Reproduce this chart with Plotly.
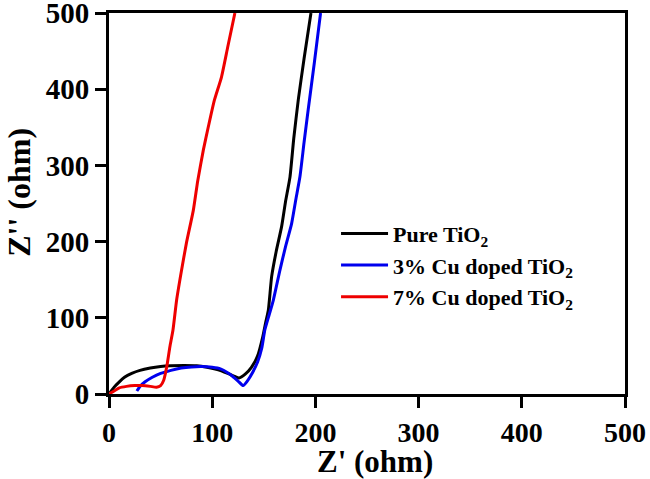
import plotly.graph_objects as go

# Pure TiO2
pure_x = [0, 5, 10, 15, 22, 30, 40, 50, 60, 73, 85, 95, 105, 115, 122, 126, 132, 138, 144, 149, 152, 154.4, 157.6, 162, 167.3, 171, 175.4, 179, 183.5, 189, 195.7]
pure_y = [0, 9, 16, 22, 27, 31, 34, 36, 37, 37.5, 37, 35, 32, 27, 23, 21, 26, 35, 50, 75, 95, 110, 154, 187, 220, 252, 285, 335, 387, 440, 500]

# 3% Cu doped TiO2
cu3_x = [27, 30, 35, 42, 50, 60, 70, 80, 90, 100, 108, 115, 120, 125, 130, 134, 139, 144, 148, 151, 155, 159.2, 165.7, 171, 177, 181, 185, 189, 193, 199, 205]
cu3_y = [4, 10, 16, 22, 27, 31, 34, 35.5, 36, 35, 33, 28, 23, 17, 11, 17, 28, 42, 60, 84, 103, 123, 163, 193, 224, 255, 285, 330, 373, 435, 500]

# 7% Cu doped TiO2
cu7_x = [0, 5, 10, 17, 25, 32, 40, 46, 50, 53, 56, 59, 62, 65.5, 70, 75, 81.7, 86, 91.4, 96.3, 102, 109, 115, 122]
cu7_y = [0, 4, 8, 10, 11, 11, 10, 9, 11, 18, 36, 62, 84, 123, 160, 198, 241, 280, 320, 351, 385, 416, 455, 500]

x_ticks = [0, 100, 200, 300, 400, 500]
y_ticks = [0, 100, 200, 300, 400, 500]

FONT = "Liberation Serif"

fig = go.Figure()
fig.add_trace(go.Scatter(x=pure_x, y=pure_y, mode="lines", name="Pure TiO<sub>2</sub>",
                         line=dict(color="black", width=3, shape="spline", smoothing=0.5)))
fig.add_trace(go.Scatter(x=cu3_x, y=cu3_y, mode="lines", name="3% Cu doped TiO<sub>2</sub>",
                         line=dict(color="#0000ee", width=3, shape="spline", smoothing=0.5)))
fig.add_trace(go.Scatter(x=cu7_x, y=cu7_y, mode="lines", name="7% Cu doped TiO<sub>2</sub>",
                         line=dict(color="#ee0000", width=3, shape="spline", smoothing=0.5)))

axis_common = dict(
    showline=True, linecolor="black", linewidth=3, mirror=True,
    ticks="outside", ticklen=11, tickwidth=3, tickcolor="black",
    showgrid=False, zeroline=False, automargin=False,
    ticklabeloverflow="allow",
)

fig.update_layout(
    width=650, height=479,
    margin=dict(l=109, r=25, t=13, b=85),
    plot_bgcolor="white", paper_bgcolor="white",
    font=dict(family=FONT, color="black"),
    xaxis=dict(range=[0, 500], tickvals=x_ticks,
               tickfont=dict(family=FONT, size=28, color="black", weight="bold"),
               **axis_common),
    yaxis=dict(range=[0, 500], tickvals=y_ticks,
               tickfont=dict(family=FONT, size=29, color="black", weight="bold"),
               **axis_common),
    legend=dict(x=0.44, y=0.476, xanchor="left", yanchor="top",
                bgcolor="rgba(0,0,0,0)", borderwidth=0, itemwidth=47,
                tracegroupgap=0,
                font=dict(family=FONT, size=22, color="black", weight="bold")),
    annotations=[
        dict(text="Z' (ohm)", xref="paper", yref="paper", x=0.5155, y=-0.176,
             xanchor="center", yanchor="middle", showarrow=False, borderpad=0,
             font=dict(family=FONT, size=31, color="black", weight="bold")),
        dict(text="Z'' (ohm)", xref="paper", yref="paper", x=-0.175, y=0.53,
             xanchor="center", yanchor="middle", showarrow=False, textangle=-90,
             font=dict(family=FONT, size=32, color="black", weight="bold")),
    ],
)

fig.write_html("out.html", config={"displayModeBar": False},
               post_script="document.body.style.margin='0';")
